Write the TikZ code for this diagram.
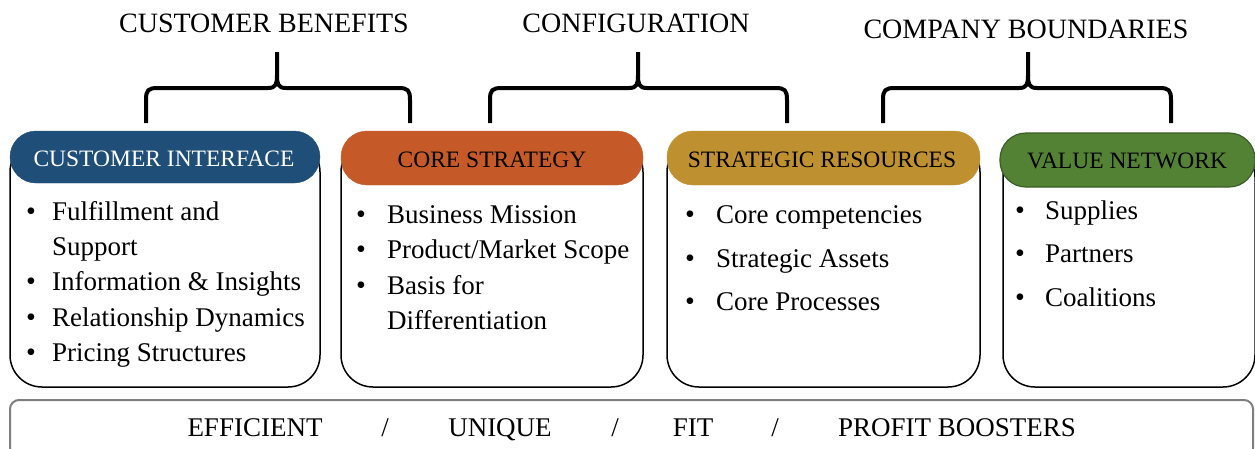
\documentclass[tikz,border=0pt]{standalone}
\usepackage{fontspec}
\setmainfont{Liberation Serif}
\definecolor{cblue}{HTML}{1F4E79}
\definecolor{corange}{HTML}{C55A28}
\definecolor{cgold}{HTML}{BF9030}
\definecolor{cgreen}{HTML}{548235}
\definecolor{cgreenb}{HTML}{3B5E26}
\definecolor{cgrey}{HTML}{7F7F7F}
\tikzset{
  body/.style={draw=black, line width=1.5pt, fill=white, rounded corners=32pt},
  header/.style={rounded corners=26pt, draw=#1, fill=#1},
  title/.style={font=\fontsize{28}{30}\selectfont, anchor=base, inner sep=0pt},
  htext/.style={font=\fontsize{23.5}{26}\selectfont, anchor=base, inner sep=0pt},
  itemtext/.style={font=\fontsize{27}{30}\selectfont, anchor=base west, inner sep=0pt},
  bul/.style={font=\fontsize{28}{30}\selectfont, anchor=base, inner sep=0pt},
  brace/.style={line width=4pt, line join=round},
  bottomtext/.style={font=\fontsize{27}{30}\selectfont, anchor=base, inner sep=0pt},
}
\begin{document}
\begin{tikzpicture}[x=1pt,y=-1pt]
\useasboundingbox (0,0) rectangle (1255,448);
% bottom bar
\draw[cgrey, line width=2pt, rounded corners=9pt, fill=white] (10,470) -- (10,400) -- (1253,400) -- (1253,470);
\node[bottomtext] (e1) at (255,436) {EFFICIENT};
\node[bottomtext] (s1) at (385,436) {/};
\node[bottomtext] (e2) at (500,436) {UNIQUE};
\node[bottomtext] (s2) at (615,436) {/};
\node[bottomtext] (e3) at (693,436) {FIT};
\node[bottomtext] (s3) at (775,436) {/};
\node[bottomtext] (e4) at (957,436) {PROFIT BOOSTERS};
% bodies
\draw[body] (10,140) rectangle (320,387);
\draw[body] (341,140) rectangle (643,387);
\draw[body] (667,140) rectangle (980,387);
\draw[body] (1003,145) rectangle (1255,387);
% headers
\draw[header=cblue] (10,131) rectangle (320,183);
\node[htext, text=white] (h1) at (164,166) {CUSTOMER INTERFACE};
\draw[header=corange] (341,131) rectangle (643,185);
\node[htext] (h2) at (492,167) {CORE STRATEGY};
\draw[header=cgold] (667,131) rectangle (980,185);
\node[htext] (h3) at (822,167) {STRATEGIC RESOURCES};
\draw[fill=cgreen, draw=cgreenb, line width=1.2pt, rounded corners=26pt] (1000,133) rectangle (1255,187);
\node[htext] (h4) at (1127,168) {VALUE NETWORK};
% box 1 items
\foreach \y/\t/\b [count=\i] in {220/{Fulfillment and}/1, 255/{Support}/0, 290/{Information \& Insights}/1, 326/{Relationship Dynamics}/1, 361/{Pricing Structures}/1}{
  \node[itemtext] (a\i) at (52,\y) {\t};
  \ifnum\b=1 \node[bul] (ab\i) at (31,\y) {\textbullet};\fi
}
% box 2 items
\foreach \y/\t/\b [count=\i] in {223/{Business Mission}/1, 258/{Product/Market Scope}/1, 294/{Basis for}/1, 329/{Differentiation}/0}{
  \node[itemtext] (c\i) at (387,\y) {\t};
  \ifnum\b=1 \node[bul] (cb\i) at (361,\y) {\textbullet};\fi
}
% box 3 items
\foreach \y/\t [count=\i] in {223/{Core competencies}, 267/{Strategic Assets}, 310/{Core Processes}}{
  \node[itemtext] (d\i) at (716,\y) {\t};
  \node[bul] (db\i) at (690,\y) {\textbullet};
}
% box 4 items
\foreach \y/\t [count=\i] in {219/{Supplies}, 262/{Partners}, 306/{Coalitions}}{
  \node[itemtext] (f\i) at (1045,\y) {\t};
  \node[bul] (fb\i) at (1020,\y) {\textbullet};
}
% titles
\node[title] (t1) at (264,32) {CUSTOMER BENEFITS};
\node[title] (t2) at (636,32) {CONFIGURATION};
\node[title] (t3) at (1026,38) {COMPANY BOUNDARIES};
% braces
\coordinate (p1) at (277,52);
\coordinate (p2) at (638,52);
\coordinate (p3) at (1028,52);
\draw[brace] (146,123) -- (146,100) .. controls (146,90) and (148,88) .. (158,88) -- (268,88) .. controls (276,88) and (277,84) .. (277,75) -- (p1);
\draw[brace] (410,123) -- (410,100) .. controls (410,90) and (408,88) .. (398,88) -- (286,88) .. controls (278,88) and (277,84) .. (277,75);
\draw[brace] (490,123) -- (490,100) .. controls (490,90) and (492,88) .. (502,88) -- (629,88) .. controls (637,88) and (638,84) .. (638,75) -- (p2);
\draw[brace] (787,123) -- (787,100) .. controls (787,90) and (785,88) .. (775,88) -- (647,88) .. controls (639,88) and (638,84) .. (638,75);
\draw[brace] (883,123) -- (883,100) .. controls (883,90) and (885,88) .. (895,88) -- (1019,88) .. controls (1027,88) and (1028,84) .. (1028,75) -- (p3);
\draw[brace] (1171,123) -- (1171,100) .. controls (1171,90) and (1169,88) .. (1159,88) -- (1037,88) .. controls (1029,88) and (1028,84) .. (1028,75);
\end{tikzpicture}
\end{document}
